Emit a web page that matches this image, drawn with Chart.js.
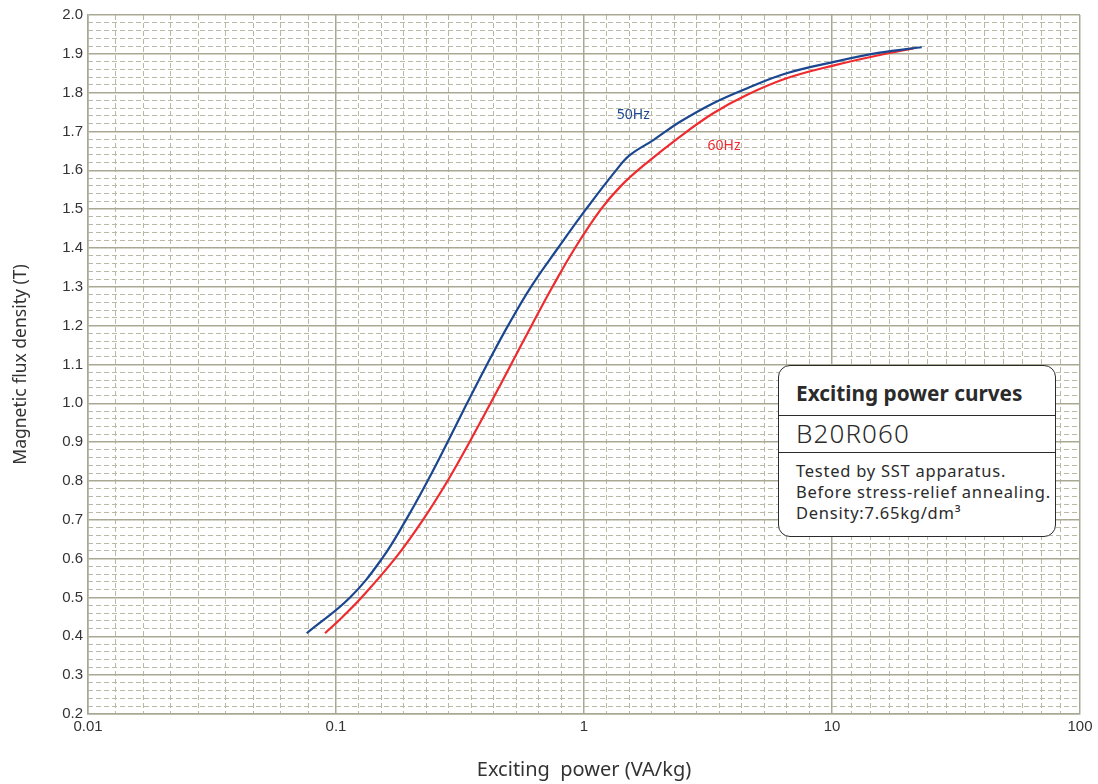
<!DOCTYPE html>
<html>
<head>
<meta charset="utf-8">
<script src="https://cdn.jsdelivr.net/npm/chart.js@4"></script>
<style>
  body { margin: 0; background: #fff; }
  #wrap { position: relative; width: 1098px; height: 784px; }
  #info {
    position: absolute; left: 778px; top: 365px; width: 278px; height: 172px;
    border: 1.6px solid #2b2b2b; border-radius: 12px; background: #fff;
    font-family: "Noto Sans", sans-serif; color: #2b2b2b; box-sizing: border-box;
  }
  #info .title { height: 50px; border-bottom: 1.6px solid #2b2b2b; box-sizing: border-box;
    font-weight: bold; font-size: 20.8px; padding: 13px 0 0 17px; }
  #info .grade { height: 37px; border-bottom: 1.6px solid #2b2b2b; box-sizing: border-box;
    font-size: 26px; letter-spacing: 1.1px; padding: 0 0 0 17px; line-height: 35px; font-weight: 300; }
  #info .note { font-size: 16.5px; line-height: 21px; padding: 7px 0 0 17px; letter-spacing: 0.75px; }
</style>
</head>
<body>
<div id="wrap">
  <canvas id="chart"></canvas>
  <div id="info">
    <div class="title">Exciting power curves</div>
    <div class="grade">B20R060</div>
    <div class="note">Tested by SST apparatus.<br>Before stress-relief annealing.<br>Density:7.65kg/dm³</div>
  </div>
</div>
<script>
// decade ticks on the log axis
const xTickValues = [0.01, 0.1, 1, 10, 100];
// number of dashed grid steps inside each decade (as drawn in the original)
const xMinorSteps = [9, 11, 11, 13];

// 50Hz curve
const power50 = [0.0762, 0.1139, 0.1532, 0.1915, 0.2339, 0.2816, 0.3375, 0.4064, 0.4939, 0.6113,
  0.7855, 1.019, 1.346, 1.53, 1.904, 2.44, 3.32, 4.53, 6.56, 10.3, 15.6, 23.0];
const flux50 = [0.408, 0.5, 0.6, 0.7, 0.8, 0.9, 1.0, 1.1, 1.2, 1.3,
  1.4, 1.5, 1.6, 1.639, 1.678, 1.725, 1.773, 1.811, 1.85, 1.88, 1.903, 1.917];

// 60Hz curve
const power60 = [0.0903, 0.1062, 0.1267, 0.1729, 0.2242, 0.2816, 0.3453, 0.4198, 0.5078, 0.6142, 0.7464,
  0.9199, 1.171, 1.41, 1.75, 2.44, 3.32, 4.53, 6.56, 10.3, 15.6, 21.3];
const flux60 = [0.408, 0.45, 0.5, 0.6, 0.7, 0.8, 0.9, 1.0, 1.1, 1.2, 1.3,
  1.4, 1.5, 1.56, 1.614, 1.687, 1.747, 1.794, 1.837, 1.871, 1.897, 1.914];

const seriesNames = ['50Hz', '60Hz'];
const seriesColors = ['#1b4690', '#ee2b2f'];
// where the curve names sit, in data units
const nameX = [1.58, 3.67];
const nameY = [1.742, 1.663];

const majorColor = '#a9a993';
const minorColor = '#b9b9a6';

function toPoints(xs, ys) {
  return xs.map((x, i) => ({ x: x, y: ys[i] }));
}

function minorXTicks() {
  const ticks = [];
  xMinorSteps.forEach((n, d) => {
    const start = Math.log10(xTickValues[d]);
    for (let k = 1; k < n; k++) ticks.push({ value: Math.pow(10, start + k / n) });
  });
  return ticks;
}

const curveNames = {
  id: 'curveNames',
  afterDatasetsDraw(chart) {
    const { ctx, scales } = chart;
    ctx.save();
    ctx.font = '14px "Noto Sans", sans-serif';
    ctx.textAlign = 'center';
    ctx.textBaseline = 'middle';
    seriesNames.forEach((name, i) => {
      ctx.fillStyle = seriesColors[i];
      ctx.fillText(name, scales.x.getPixelForValue(nameX[i]), scales.y.getPixelForValue(nameY[i]));
    });
    ctx.restore();
  }
};

new Chart(document.getElementById('chart'), {
  type: 'line',
  data: {
    datasets: [
      { label: seriesNames[0], data: toPoints(power50, flux50) },
      { label: seriesNames[1], data: toPoints(power60, flux60) }
    ].map((ds, i) => ({
      ...ds,
      borderColor: seriesColors[i],
      borderWidth: 2.2,
      pointRadius: 0,
      fill: false,
      tension: 0.4
    }))
  },
  options: {
    responsive: true,
    maintainAspectRatio: false,
    animation: false,
    layout: { padding: { top: 15, right: 18, left: 0, bottom: 0 } },
    plugins: { legend: { display: false }, tooltip: { enabled: false } },
    scales: {
      x: {
        type: 'logarithmic',
        min: 0.01,
        max: 100,
        afterBuildTicks: (axis) => { axis.ticks = xTickValues.map(v => ({ value: v })); },
        afterFit: (axis) => { axis.height = 70; },
        grid: { color: majorColor, lineWidth: 1.5, drawTicks: false },
        border: { color: majorColor, width: 1.5 },
        ticks: {
          autoSkip: false, maxRotation: 0, padding: 4, color: '#333',
          font: { family: 'Liberation Sans', size: 15 },
          callback: (v) => String(v)
        },
        title: {
          display: true, text: 'Exciting  power (VA/kg)', color: '#333',
          font: { family: 'Noto Sans', size: 20 }, padding: { top: 0, bottom: 2 }
        }
      },
      xMinor: {
        type: 'logarithmic',
        position: 'top',
        min: 0.01,
        max: 100,
        afterBuildTicks: (axis) => { axis.ticks = minorXTicks(); },
        afterFit: (axis) => { axis.height = 0; },
        grid: { color: minorColor, lineWidth: 1, drawTicks: false },
        border: { display: false, dash: [5, 3] },
        ticks: { display: false }
      },
      y: {
        type: 'linear',
        min: 0.2,
        max: 2.0,
        afterFit: (axis) => { axis.width = 88; },
        grid: { color: majorColor, lineWidth: 1.5, drawTicks: false },
        border: { color: majorColor, width: 1.5 },
        ticks: {
          stepSize: 0.1, autoSkip: false, padding: 5, color: '#333',
          font: { family: 'Liberation Sans', size: 15 },
          callback: (v) => v.toFixed(1)
        },
        title: {
          display: true, text: 'Magnetic flux density (T)', color: '#333',
          font: { family: 'Noto Sans', size: 17.5 }, padding: { top: 11, bottom: 0 }
        }
      },
      yMinor: {
        type: 'linear',
        position: 'right',
        min: 0.2,
        max: 2.0,
        afterFit: (axis) => { axis.width = 0; },
        grid: {
          drawTicks: false, lineWidth: 1,
          color: (c) => {
            const r = c.tick.value * 10;
            return Math.abs(r - Math.round(r)) < 1e-6 ? 'rgba(0,0,0,0)' : minorColor;
          }
        },
        border: { display: false, dash: [5, 3] },
        ticks: { display: false, stepSize: 0.02, autoSkip: false }
      }
    }
  },
  plugins: [curveNames]
});
</script>
</body>
</html>
